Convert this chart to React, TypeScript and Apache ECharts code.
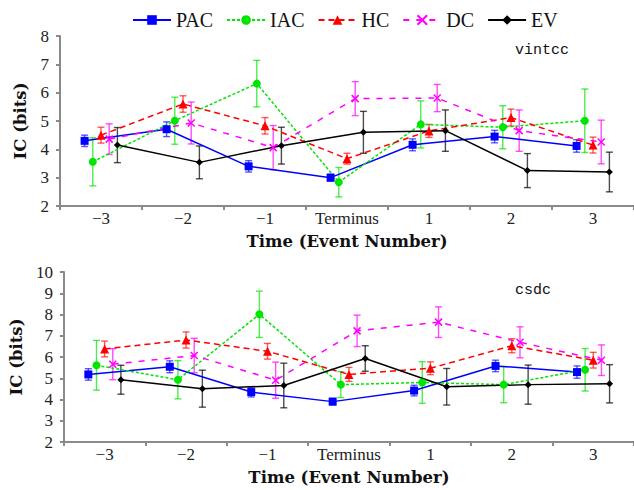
import React, { useEffect, useRef } from "react";
import * as echarts from "echarts";

const xCategories = ["−3", "−2", "−1", "Terminus", "1", "2", "3"];
const eventIdx = [-3, -2, -1, 0, 1, 2, 3];
const seriesNames = ["PAC", "IAC", "HC", "DC", "EV"];

// top panel: vintcc
const vintccPAC = [4.3, 4.71, 3.4, 3.0, 4.16, 4.45, 4.12];
const vintccPACErr = [0.2, 0.26, 0.2, 0.12, 0.21, 0.22, 0.22];
const vintccIAC = [3.56, 5.01, 6.32, 2.84, 4.88, 4.78, 5.01];
const vintccIACErr = [0.85, 0.83, 0.82, 0.52, 0.83, 0.76, 1.12];
const vintccHC = [4.5, 5.6, 4.83, 3.67, 4.65, 5.12, 4.15];
const vintccHCErr = [0.28, 0.29, 0.29, 0.19, 0.23, 0.3, 0.28];
const vintccDC = [4.36, 4.93, 4.06, 5.79, 5.81, 4.66, 4.26];
const vintccDCErr = [0.54, 0.74, 0.78, 0.6, 0.48, 0.73, 0.77];
const vintccEV = [4.15, 3.54, 4.13, 4.6, 4.66, 3.25, 3.2];
const vintccEVErr = [0.62, 0.58, 0.65, 0.74, 0.73, 0.6, 0.7];

// bottom panel: csdc
const csdcPAC = [5.18, 5.54, 4.35, 3.9, 4.42, 5.58, 5.29];
const csdcPACErr = [0.27, 0.28, 0.23, 0.15, 0.25, 0.27, 0.29];
const csdcIAC = [5.61, 4.93, 8.01, 4.7, 4.8, 4.7, 5.4];
const csdcIACErr = [1.17, 0.9, 1.09, 0.61, 0.98, 0.85, 1.0];
const csdcHC = [6.38, 6.8, 6.27, 5.18, 5.47, 6.53, 5.85];
const csdcHCErr = [0.37, 0.38, 0.37, 0.33, 0.3, 0.33, 0.37];
const csdcDC = [5.66, 6.07, 4.91, 7.23, 7.64, 6.69, 5.85];
const csdcDCErr = [0.73, 0.81, 0.85, 0.74, 0.72, 0.73, 0.72];
const csdcEV = [4.93, 4.51, 4.66, 5.93, 4.6, 4.7, 4.74];
const csdcEVErr = [0.68, 0.87, 1.05, 0.6, 0.86, 0.92, 0.9];

const yTopRange = [2, 8];
const yBottomRange = [2, 10];

const FONT = "Liberation Serif";
const TITLE_FONT = "DejaVu Serif";
const AXIS_COLOR = "#8a8a8a";

const styles: Record<string, any> = {
  PAC: { color: "#0000ff", err: "rgba(0,0,255,0.65)", dash: "solid", symbol: "rect", size: 8, offset: -0.2 },
  IAC: { color: "#00e600", err: "rgba(0,230,0,0.7)", dash: [3, 2], symbol: "circle", size: 8, offset: -0.1 },
  HC: { color: "#ff0000", err: "rgba(255,0,0,0.65)", dash: [6, 4], symbol: "triangle", size: 9, offset: 0 },
  DC: { color: "#ff00ff", err: "rgba(255,0,255,0.7)", dash: [6, 7], symbol: "path://M0,0L10,10M10,0L0,10", size: 7, offset: 0.1 },
  EV: { color: "#000000", err: "rgba(0,0,0,0.7)", dash: "solid", symbol: "diamond", size: 7, offset: 0.2 },
};

export default function App() {
  const ref = useRef<HTMLDivElement>(null);
  useEffect(() => {
    if (!ref.current) return;
    const chart = echarts.init(ref.current, null, { renderer: "svg" });

    const panels = [
      { vals: [vintccPAC, vintccIAC, vintccHC, vintccDC, vintccEV], errs: [vintccPACErr, vintccIACErr, vintccHCErr, vintccDCErr, vintccEVErr] },
      { vals: [csdcPAC, csdcIAC, csdcHC, csdcDC, csdcEV], errs: [csdcPACErr, csdcIACErr, csdcHCErr, csdcDCErr, csdcEVErr] },
    ];

    const series: any[] = [];
    panels.forEach((p, gi) => {
      seriesNames.forEach((name, si) => {
        const st = styles[name];
        const errData = eventIdx.map((x, i) => [x + st.offset, p.vals[si][i] - p.errs[si][i], p.vals[si][i] + p.errs[si][i]]);
        series.push({
          type: "custom",
          name: name + "_err" + gi,
          xAxisIndex: 2 + gi,
          yAxisIndex: gi,
          data: errData,
          encode: { x: 0, y: [1, 2] },
          z: 2,
          silent: true,
          renderItem: (params: any, api: any) => {
            const x = api.value(0);
            const lo = api.coord([x, api.value(1)]);
            const hi = api.coord([x, api.value(2)]);
            const w = 3.5;
            const s = { stroke: st.err, lineWidth: 1.4 };
            return {
              type: "group",
              children: [
                { type: "line", shape: { x1: lo[0], y1: lo[1], x2: hi[0], y2: hi[1] }, style: s },
                { type: "line", shape: { x1: lo[0] - w, y1: lo[1], x2: lo[0] + w, y2: lo[1] }, style: s },
                { type: "line", shape: { x1: hi[0] - w, y1: hi[1], x2: hi[0] + w, y2: hi[1] }, style: s },
              ],
            };
          },
        });
      });
    });
    panels.forEach((p, gi) => {
      seriesNames.forEach((name, si) => {
        const st = styles[name];
        series.push({
          type: "line",
          name,
          xAxisIndex: 2 + gi,
          yAxisIndex: gi,
          data: eventIdx.map((x, i) => [x + st.offset, p.vals[si][i]]),
          symbol: st.symbol,
          symbolSize: st.size,
          showSymbol: true,
          z: 5,
          lineStyle: { color: st.color, width: 1.5, type: st.dash },
          itemStyle: name === "DC"
            ? { color: st.color, borderColor: st.color, borderWidth: 1.5 }
            : { color: st.color, borderWidth: 0 },
        });
      });
    });

    const catAxis = (gi: number) => ({
      type: "category",
      gridIndex: gi,
      data: xCategories,
      boundaryGap: true,
      axisLine: { onZero: false, lineStyle: { color: AXIS_COLOR, width: 2 } },
      axisTick: { show: true, length: 4, interval: 0, lineStyle: { color: AXIS_COLOR, width: 2 } },
      axisLabel: { interval: 0, hideOverlap: false, color: "#222", fontFamily: FONT, fontSize: 17, margin: 4 },
      name: "Time (Event Number)",
      nameLocation: "middle",
      nameGap: 27,
      nameTextStyle: { color: "#111", fontFamily: TITLE_FONT, fontSize: 16.5, fontWeight: "bold" },
      splitLine: { show: false },
    });
    const valXAxis = (gi: number) => ({
      type: "value",
      gridIndex: gi,
      min: -3.5,
      max: 3.5,
      show: false,
      axisLine: { onZero: false },
    });
    const yAxis = (gi: number, range: number[]) => ({
      type: "value",
      gridIndex: gi,
      min: range[0],
      max: range[1],
      interval: 1,
      axisLine: { show: true, onZero: false, lineStyle: { color: AXIS_COLOR, width: 2 } },
      axisTick: { show: true, length: 4, lineStyle: { color: AXIS_COLOR, width: 2 } },
      axisLabel: { color: "#222", fontFamily: FONT, fontSize: 17, margin: 11 },
      splitLine: { show: false },
      name: "IC (bits)",
      nameLocation: "middle",
      nameGap: 31,
      nameTextStyle: { color: "#111", fontFamily: TITLE_FONT, fontSize: 16.5, fontWeight: "bold" },
    });

    chart.setOption({
      animation: false,
      backgroundColor: "#fff",
      legend: {
        data: seriesNames,
        top: 5,
        left: 127,
        itemWidth: 38,
        itemHeight: 12,
        itemGap: 13,
        textStyle: { fontFamily: FONT, fontSize: 20, color: "#111" },
      },
      grid: [
        { left: 60, top: 36, width: 577, height: 170 },
        { left: 60, top: 272, width: 577, height: 170 },
      ],
      xAxis: [catAxis(0), catAxis(1), valXAxis(0), valXAxis(1)],
      yAxis: [yAxis(0, yTopRange), yAxis(1, yBottomRange)],
      graphic: [
        { type: "text", left: 515, top: 43, style: { text: "vintcc", fontFamily: "Liberation Mono", fontSize: 15, fill: "#111" } },
        { type: "text", left: 515, top: 283, style: { text: "csdc", fontFamily: "Liberation Mono", fontSize: 15, fill: "#111" } },
      ],
      series,
    });
    return () => chart.dispose();
  }, []);
  return <div ref={ref} style={{ position: "absolute", left: 0, top: 0, width: 634, height: 490 }} />;
}
